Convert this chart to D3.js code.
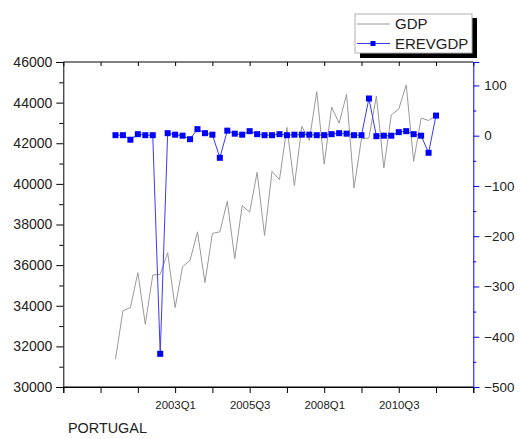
<!DOCTYPE html>
<html><head><meta charset="utf-8">
<script src="https://cdn.jsdelivr.net/npm/d3@7"></script>
<style>body{margin:0;background:#fff}svg{display:block;font-family:"Liberation Sans",Arial,sans-serif}</style>
</head><body><svg id="c" width="520" height="439"></svg>
<script>
const quarters = ["2001Q1","2001Q2","2001Q3","2001Q4","2002Q1","2002Q2","2002Q3","2002Q4",
"2003Q1","2003Q2","2003Q3","2003Q4","2004Q1","2004Q2","2004Q3","2004Q4",
"2005Q1","2005Q2","2005Q3","2005Q4","2006Q1","2006Q2","2006Q3","2006Q4",
"2007Q1","2007Q2","2007Q3","2007Q4","2008Q1","2008Q2","2008Q3","2008Q4",
"2009Q1","2009Q2","2009Q3","2009Q4","2010Q1","2010Q2","2010Q3","2010Q4",
"2011Q1","2011Q2","2011Q3","2011Q4"];
const gdp = [31370,33750,33910,35630,33090,35510,35550,36610,33910,35920,
36230,37640,35140,37560,37640,39150,36320,38930,38610,40570,
37460,40610,40210,42780,39910,42830,42140,44540,40970,43780,
42990,44410,39800,42220,42260,44330,40780,43400,43680,44870,
41110,43240,43120,43350];
const erevgdp = [1,1,-8,3,1,1,-434,5,2,0,
-7,13,5,2,-44,10,4,2,9,3,
1,1,3,1,2,2,2,1,1,3,
5,4,1,1,74,-1,0,0,7,9,
3,0,-34,40];
const xTickValues = ["1999Q2","2000Q3","2001Q4","2003Q1","2004Q2","2005Q3","2006Q4","2008Q1","2009Q2","2010Q3","2011Q4","2013Q1"];
const xTickLabels = ["2003Q1","2005Q3","2008Q1","2010Q3"];
const leftTicks = [30000,32000,34000,36000,38000,40000,42000,44000,46000];
const rightTicks = [-500,-400,-300,-200,-100,0,100];
const seriesNames = ["GDP","EREVGDP"];
const countryLabel = "PORTUGAL";

const qnum = s => +s.slice(0,4) + (+s.slice(5)-1)/4;
const L=63.3, R=473.3, T=62, B=387;
const svg = d3.select("#c");
const x = d3.scaleLinear().domain([qnum(xTickValues[0]), qnum(xTickValues[xTickValues.length-1])]).range([L,R]);
const yL = d3.scaleLinear().domain([30000,46000]).range([B,T]);
const yR = d3.scaleLinear().domain([-500,146.6]).range([B,T]);

// frame
svg.append("line").attr("x1",L).attr("x2",R).attr("y1",T).attr("y2",T).attr("stroke","#000");
svg.append("line").attr("x1",L).attr("x2",R).attr("y1",B).attr("y2",B).attr("stroke","#000");

// bottom axis
const bAx = svg.append("g").attr("transform",`translate(0,${B})`)
  .call(d3.axisBottom(x).tickValues(xTickValues.map(qnum)).tickSize(6).tickPadding(8)
    .tickFormat(v => { const q = xTickValues.find(s=>Math.abs(qnum(s)-v)<1e-6); return xTickLabels.includes(q)?q:""; }));
bAx.select(".domain").attr("stroke","#000");
bAx.selectAll("text").attr("font-size","11.4px").attr("fill","#222").attr("font-family","Liberation Sans, Arial");
// top ticks inward
const tAx = svg.append("g").attr("transform",`translate(0,${T})`)
  .call(d3.axisBottom(x).tickValues(xTickValues.map(qnum)).tickSize(4).tickFormat(""));
tAx.select(".domain").remove();

// left axis
const minorL = d3.range(31000,46000,2000);
svg.append("g").attr("transform",`translate(${L},0)`)
  .call(d3.axisLeft(yL).tickValues(minorL).tickSize(4).tickFormat(""))
  .select(".domain").remove();
const lAx = svg.append("g").attr("transform",`translate(${L},0)`)
  .call(d3.axisLeft(yL).tickValues(leftTicks).tickSize(7).tickPadding(4).tickFormat(d3.format("d")));
lAx.select(".domain").attr("stroke","#000");
lAx.selectAll("text").attr("font-size","14px").attr("fill","#222").attr("font-family","Liberation Sans, Arial");

// right axis
const minorR = d3.range(-450,146,100);
const rm = svg.append("g").attr("transform",`translate(${R},0)`)
  .call(d3.axisRight(yR).tickValues(minorR).tickSize(3).tickFormat(""));
rm.select(".domain").remove();
rm.selectAll("line").attr("stroke","#0000ff");
const rAx = svg.append("g").attr("transform",`translate(${R},0)`)
  .call(d3.axisRight(yR).tickValues(rightTicks).tickSize(6).tickPadding(5).tickFormat(d3.format("d")));
rAx.select(".domain").attr("stroke","#0000ff");
rAx.selectAll("line").attr("stroke","#0000ff");
rAx.selectAll("text").attr("font-size","13.4px").attr("fill","#222").attr("font-family","Liberation Sans, Arial");

// series
const gd = quarters.map((q,i)=>({x:qnum(q), v:gdp[i]}));
const ed = quarters.map((q,i)=>({x:qnum(q), v:erevgdp[i]}));
svg.append("path").datum(gd).attr("fill","none").attr("stroke","#9a9a9a").attr("stroke-width",1)
  .attr("d", d3.line().x(d=>x(d.x)).y(d=>yL(d.v)));
svg.append("path").datum(ed).attr("fill","none").attr("stroke","#3a3aff").attr("stroke-width",1)
  .attr("d", d3.line().x(d=>x(d.x)).y(d=>yR(d.v)));
svg.selectAll("rect.pt").data(ed).join("rect").attr("class","pt")
  .attr("x",d=>x(d.x)-3).attr("y",d=>yR(d.v)-3).attr("width",6).attr("height",6).attr("fill","#0000ff");

// legend
const lg = svg.append("g");
lg.append("rect").attr("x",360).attr("y",18).attr("width",117).attr("height",40).attr("fill","#000");
lg.append("rect").attr("x",355).attr("y",14).attr("width",117).attr("height",39).attr("fill","#fff").attr("stroke","#b0b0b0");
lg.append("line").attr("x1",357).attr("x2",390).attr("y1",24).attr("y2",24).attr("stroke","#9a9a9a");
lg.append("line").attr("x1",357).attr("x2",390).attr("y1",43.5).attr("y2",43.5).attr("stroke","#3a3aff");
lg.append("rect").attr("x",370.5).attr("y",41).attr("width",5).attr("height",5).attr("fill","#0000ff");
lg.selectAll("text").data(seriesNames).join("text").attr("x",395).attr("y",(d,i)=>24+i*19.5)
  .attr("dy","0.36em").attr("font-size","15px").attr("fill","#222").text(d=>d);

svg.append("text").attr("x",68).attr("y",433).attr("font-size","14.4px").attr("fill","#222").text(countryLabel);
</script></body></html>
